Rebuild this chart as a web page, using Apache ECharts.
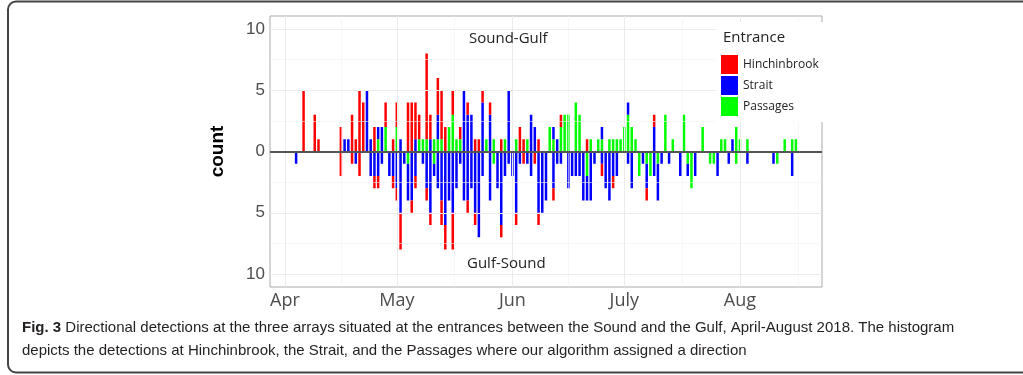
<!DOCTYPE html>
<html><head><meta charset="utf-8">
<script src="https://cdn.jsdelivr.net/npm/echarts@6/dist/echarts.min.js"></script>
<style>html,body{margin:0;padding:0;background:#fff}#c{width:1023px;height:375px}</style>
</head><body><div id="c"></div>
<script>
// day index: 0 = 1 April 2018
const days = [3,5,8,9,15,16,17,18,19,20,21,22,23,24,25,26,27,28,29,30,31,32,33,34,35,36,37,38,39,40,41,42,43,44,45,46,47,48,49,50,51,52,53,54,55,56,57,58,59,60,61,62,63,64,65,66,67,68,69,70,71,72,73,74,75,76,77,78,79,80,81,82,83,84,85,86,87,88,89,90,91,92,93,94,95,96,97,98,99,100,101,102,103,104,106,107,108,109,110,112,114,115,116,117,118,119,120,121,122,124,131,132,134,136,137];
// Sound-Gulf counts (upward)
const passagesUp = [0,0,0,0,0,0,0,0,0,0,0,0,0,0,1,0,2,0,0,2,0,0,0,0,0,1,1,1,0,1,1,1,0,2,3,1,1,0,0,0,0,0,0,1,0,1,0,0,1,0,0,1,0,0,1,0,0,0,0,0,2,1,0,2,3,3,0,4,3,0,0,1,0,1,1,0,1,1,1,1,2,3,2,1,0,0,0,0,0,0,0,3,0,1,0,3,0,0,0,2,0,0,0,1,1,0,0,2,1,1,0,0,1,1,1];
const straitUp   = [0,0,0,0,0,1,1,0,0,0,0,5,1,0,1,2,0,0,0,0,1,0,0,0,1,0,0,0,1,0,2,0,0,0,0,0,0,5,3,3,0,0,4,0,3,0,0,0,0,5,0,0,0,0,0,3,2,0,0,0,0,1,1,0,0,0,0,0,0,0,0,0,0,0,1,0,0,0,0,0,0,1,0,0,0,0,0,0,2,0,0,0,0,0,0,0,0,0,0,0,0,0,0,0,0,0,1,0,0,0,0,0,0,0,0];
const hinchUp    = [0,5,3,1,2,0,0,3,1,5,4,0,0,2,0,0,2,0,1,2,0,0,4,4,3,2,0,7,2,0,3,4,2,0,2,0,1,0,1,0,1,1,1,0,1,0,0,1,0,0,0,0,2,1,0,0,0,1,0,0,0,0,0,1,0,0,0,0,0,0,1,0,0,0,0,0,0,0,0,0,0,0,0,0,0,0,0,0,1,0,0,0,0,0,0,0,0,0,0,0,0,0,0,0,0,0,0,0,0,0,0,0,0,0,0];
// Gulf-Sound counts (downward, as magnitudes)
const passagesDown = [0,0,0,0,0,0,0,0,0,0,0,0,0,0,0,0,0,0,0,0,0,0,1,0,0,0,0,0,0,1,0,0,0,0,0,0,0,0,0,0,0,0,0,0,0,1,0,0,0,0,0,0,0,0,0,0,0,0,0,0,0,0,0,0,0,0,0,0,0,0,2,0,0,0,0,0,0,0,0,0,0,0,0,0,2,0,1,2,0,1,0,0,0,0,0,0,1,3,0,0,1,1,0,0,0,0,0,1,0,0,0,1,0,0,0];
const straitDown   = [1,0,0,0,0,0,0,0,1,0,0,0,2,2,2,1,0,2,2,3,5,1,3,4,2,0,1,3,5,1,3,4,6,4,5,3,1,4,4,3,5,7,2,0,4,0,3,6,2,1,2,5,1,0,1,2,0,5,5,4,0,3,1,1,0,3,2,2,2,4,2,4,1,0,1,3,4,2,2,0,0,1,3,0,0,1,2,0,2,3,1,0,1,0,2,0,1,0,2,0,0,0,2,0,0,1,0,0,0,1,1,0,0,2,0];
const hinchDown    = [0,0,0,0,2,0,0,1,0,2,0,0,0,1,1,0,0,0,1,1,3,0,0,1,1,0,0,1,1,0,0,2,2,0,3,0,0,0,1,0,1,0,0,0,0,0,0,1,0,0,0,1,0,1,0,0,1,1,0,0,0,1,0,0,0,0,0,0,0,0,0,0,0,0,1,0,0,1,0,0,0,0,0,0,0,0,1,0,0,0,0,0,0,0,0,0,0,0,0,0,0,0,0,0,0,0,0,0,0,0,0,0,0,0,0];

const firstDay = -4, lastDay = 144;
const monthTicks = [0, 30, 61, 91, 122];
const monthLabels = ['Apr', 'May', 'Jun', 'July', 'Aug'];
const minorX = [15, 45.5, 76, 106.5, 137.5];
const yTicks = [-10, -5, 0, 5, 10];
const minorY = [-7.5, -2.5, 2.5, 7.5];

const colors = {Hinchinbrook: '#ff0000', Strait: '#0000ff', Passages: '#00ff00'};

const allDays = [];
for (let d = firstDay; d <= lastDay; d++) allDays.push(d);

function fullSeries(vals, sign) {
  const out = allDays.map(() => 0);
  days.forEach((d, i) => { out[d - firstDay] = sign * vals[i]; });
  return out;
}
function barSeries(name, vals, sign) {
  return {
    type: 'bar', name: name, stack: 'all', stackStrategy: 'samesign',
    barWidth: 2.5, itemStyle: {color: colors[name]},
    data: fullSeries(vals, sign), z: 2, animation: false
  };
}

const gridLines = [];
monthTicks.forEach(v => gridLines.push({xAxis: v}));
minorX.forEach(v => gridLines.push({xAxis: v, lineStyle: {width: 0.6, color: '#f2f2f2'}}));
yTicks.filter(v => v !== 0).forEach(v => gridLines.push({yAxis: v}));
minorY.forEach(v => gridLines.push({yAxis: v, lineStyle: {width: 0.6, color: '#f2f2f2'}}));

const isMonth = (idx) => monthTicks.indexOf(allDays[idx]) >= 0;

const chart = echarts.init(document.getElementById('c'), null, {renderer: 'canvas'});
chart.setOption({
  animation: false,
  backgroundColor: '#fff',
  grid: {left: 270, top: 16, width: 552, height: 271, show: true, borderColor: '#aaaaaa', borderWidth: 1, backgroundColor: '#fff'},
  xAxis: [{
    type: 'category', data: allDays, boundaryGap: false,
    axisLine: {show: false},
    axisTick: {show: true, length: 4, lineStyle: {color: '#333'}, interval: (i) => isMonth(i)},
    axisLabel: {interval: (i) => isMonth(i), formatter: v => monthLabels[monthTicks.indexOf(Number(v))] || '',
      color: '#4d4d4d', fontSize: 18, fontFamily: 'Open Sans', margin: 5},
    splitLine: {show: false}
  }, {
    type: 'value', min: firstDay, max: lastDay, show: false
  }],
  yAxis: {
    type: 'value', min: -11.06, max: 11.06,
    name: 'count', nameLocation: 'middle', nameGap: 43,
    nameTextStyle: {fontSize: 19, fontWeight: 'bold', color: '#000', fontFamily: 'Liberation Sans'},
    axisLine: {show: false},
    axisTick: {show: true, length: 4, lineStyle: {color: '#333'}, customValues: yTicks},
    axisLabel: {customValues: yTicks, formatter: v => String(Math.abs(v)),
      color: '#4d4d4d', fontSize: 17, fontFamily: 'Liberation Sans', margin: 5},
    splitLine: {show: false}
  },
  legend: {
    data: ['Hinchinbrook', 'Strait', 'Passages'], orient: 'vertical', left: 721, top: 55, padding: 0,
    itemWidth: 17, itemHeight: 19, itemGap: 2, icon: 'rect', selectedMode: false, z: 20,
    textStyle: {fontFamily: 'Open Sans', fontSize: 12, color: '#222'}
  },
  graphic: [
    {type: 'rect', z: 15, shape: {x: 716, y: 22, width: 108, height: 100}, style: {fill: '#fff'}},
    {type: 'text', z: 20, left: 723, top: 30, style: {text: 'Entrance', font: '15px "Open Sans"', fill: '#222'}},
    {type: 'text', z: 20, left: 469, top: 31, style: {text: 'Sound-Gulf', font: '15px "Open Sans"', fill: '#222'}},
    {type: 'text', z: 20, left: 467, top: 256, style: {text: 'Gulf-Sound', font: '15px "Open Sans"', fill: '#222'}},
    {type: 'rect', z: 1, shape: {x: 8, y: 1.5, width: 1100, height: 371, r: 8}, style: {fill: 'none', stroke: '#444', lineWidth: 2}},
    {type: 'text', z: 20, left: 22, top: 320, style: {
      text: '{b|Fig. 3} Directional detections at the three arrays situated at the entrances between the Sound and the Gulf, April-August 2018. The histogram',
      font: '15px "Liberation Sans"', fill: '#231f20',
      rich: {b: {fontWeight: 'bold', fontSize: 15, fontFamily: 'Liberation Sans', fill: '#231f20'}}}},
    {type: 'text', z: 20, left: 22, top: 343, style: {
      text: 'depicts the detections at Hinchinbrook, the Strait, and the Passages where our algorithm assigned a direction',
      font: '15px "Liberation Sans"', fill: '#231f20'}}
  ],
  series: [
    {type: 'line', data: [], xAxisIndex: 1, z: 1, silent: true,
      markLine: {silent: true, symbol: ['none', 'none'], label: {show: false}, animation: false,
        lineStyle: {color: '#ebebeb', width: 1, type: 'solid'}, data: gridLines}},
    barSeries('Passages', passagesUp, 1),
    barSeries('Passages', passagesDown, -1),
    barSeries('Strait', straitUp, 1),
    barSeries('Strait', straitDown, -1),
    barSeries('Hinchinbrook', hinchUp, 1),
    barSeries('Hinchinbrook', hinchDown, -1),
    {type: 'line', data: [], xAxisIndex: 1, z: 5, silent: true,
      markLine: {silent: true, symbol: ['none', 'none'], label: {show: false}, animation: false,
        lineStyle: {color: '#555', width: 2, type: 'solid'}, data: [{yAxis: 0}]}}
  ]
});
</script></body></html>
